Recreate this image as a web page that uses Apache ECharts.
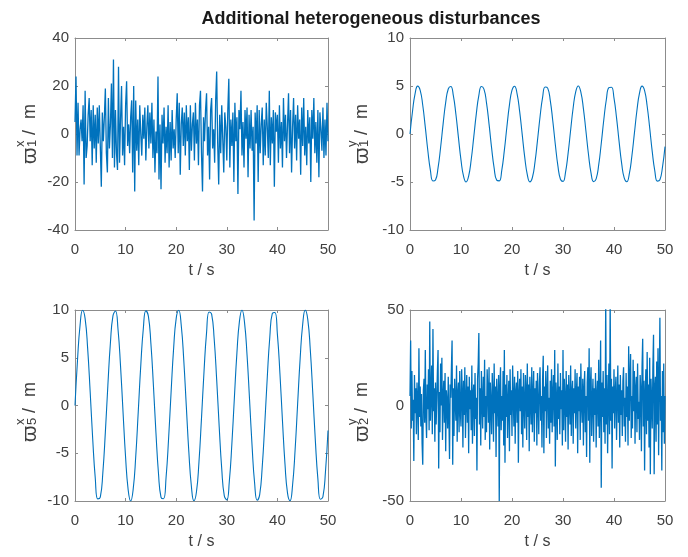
<!DOCTYPE html>
<html>
<head>
<meta charset="utf-8">
<script src="https://cdn.jsdelivr.net/npm/echarts@6/dist/echarts.min.js"></script>
<style>html,body{margin:0;padding:0;background:#fff;}#c{width:688px;height:557px;}</style>
</head>
<body>
<div id="c"></div>
<script>
// ---- data ----
const tStart = 0;
const tEnd = 50;

// top-left: ϖ1^x noise (sampled every 0.2 s)
const noise1x = [
5,24,-9,13,-9,2,6,-3,12,-21,18,-10,-5,8,15,-3,10,-13,12,-6,
8,-12,11,-4,12,-5,-22,9,-3,7,19,-8,-16,15,-6,4,21,-10,31,-14,
10,-8,-15,28,-12,6,20,-9,3,-13,12,22,-5,4,-8,7,14,-16,20,-24,
14,-7,6,-13,12,0,-9,8,-2,11,-11,3,12,-6,9,-4,13,-10,6,-16,
1,-8,24,-19,4,-23,8,-4,11,-12,3,-8,12,-14,5,-11,10,-6,2,-10,
6,17,-8,13,-17,4,11,-5,9,-9,12,-3,7,-15,12,-7,4,9,-11,13,
-4,6,-13,12,18,-8,-24,7,-3,10,17,-9,3,-19,10,15,-6,2,-12,14,
26,-4,-21,8,-8,12,-2,-16,9,3,-11,10,23,-14,6,-5,9,-20,13,-3,
7,-25,10,2,18,-9,5,-14,10,-2,11,-18,8,-6,10,-7,3,-36,9,-4,
12,-20,10,-8,4,11,-13,6,-9,13,3,-10,18,-13,7,-4,10,-22,9,1,
8,-12,12,-6,5,-14,15,-3,8,-10,4,17,-8,10,-16,3,15,-6,8,-11,
12,-2,6,-17,11,-5,15,-9,3,-13,10,-4,7,-20,10,-2,15,-8,5,-12,
10,-18,9,2,-7,11,-10,6,-9,13,-3
];

// top-right: ϖ1^y (sampled every 0.5 s)
const wave1y = [
0,2.40,4.21,4.99,4.55,2.99,0.71,-1.75,-3.78,-4.89,-4.79,-3.53,-1.40,1.08,3.29,4.69,4.95,3.99,2.06,-0.38,
-2.72,-4.40,-5.00,-4.38,-2.68,-0.33,2.10,4.02,4.95,4.67,3.25,1.03,-1.44,-3.56,-4.81,-4.88,-3.76,-1.71,0.75,3.03,
4.56,4.98,4.18,2.35,-0.04,-2.44,-4.23,-4.99,-4.53,-2.96,-0.66,1.80,3.81,4.90,4.78,3.51,1.35,-1.12,-3.32,-4.71,
-4.94,-3.97,-2.02,0.42,2.76,4.42,5.00,4.36,2.65,0.29,-2.14,-4.07,-4.96,-4.67,-3.22,-0.99,1.48,3.59,4.82,4.87,
3.73,1.68,-0.79,-3.06,-4.58,-4.98,-4.16,-2.32,0.09,2.47,4.25,4.99,4.51,2.92,0.62,-1.84,-3.84,-4.91,-4.77,-3.47,
-1.31
];

// bottom-left: ϖ5^x (sampled every 0.5 s)
const wave5x = [
0,4.79,8.41,9.97,9.09,5.98,1.41,-3.51,-7.57,-9.78,-9.59,-7.06,-2.79,2.15,6.57,9.38,9.89,7.99,4.12,-0.75,
-5.44,-8.80,-10.00,-8.76,-5.37,-0.66,4.20,8.04,9.91,9.35,6.50,2.07,-2.88,-7.12,-9.61,-9.76,-7.51,-3.43,1.50,6.06,
9.13,9.97,8.37,4.71,-0.09,-4.87,-8.46,-9.98,-9.06,-5.91,-1.32,3.59,7.63,9.79,9.56,7.01,2.71,-2.24,-6.64,-9.43,
-9.88,-7.93,-4.04,0.84,5.51,8.84,10.00,8.71,5.29,0.58,-4.28,-8.14,-9.92,-9.33,-6.44,-1.98,2.96,7.18,9.64,9.74,
7.45,3.35,-1.59,-6.13,-9.17,-9.96,-8.32,-4.64,0.18,4.95,8.51,9.99,9.02,5.84,1.24,-3.68,-7.68,-9.82,-9.54,-6.94,
-2.62
];

// bottom-right: ϖ2^y noise (sampled every 0.125 s)
const noise2y = [
5,34,-12,18,-8,3,-29,16,-4,9,-15,12,2,-18,30,-6,10,-11,6,-20,
-31,8,14,-9,29,-5,-17,11,-2,19,-13,44,-8,6,21,-15,40,-3,9,-19,
12,-10,3,18,29,-33,7,-14,22,0,25,-18,5,13,-9,17,-24,8,2,-12,
15,-6,-28,11,4,20,34,-31,9,-16,14,2,-8,21,-19,6,12,-14,18,-3,
-11,19,7,-22,13,-5,20,-17,3,16,-9,10,-25,15,-2,8,-13,21,-20,6,
11,-16,17,-7,4,-34,14,22,38,-10,9,-21,18,3,-12,15,-6,24,-18,5,
-14,19,8,-9,20,-23,12,1,-15,17,6,-19,22,-4,10,-27,14,3,-11,16,
-50,9,20,-13,5,-8,18,-21,29,-30,11,-6,16,-17,2,13,-24,19,-5,8,
-16,21,4,-11,15,-20,7,12,-9,18,-30,6,14,-3,19,-15,10,-22,17,1,
-12,16,8,-18,22,-6,11,-24,15,3,-10,20,-14,6,18,-19,9,-4,13,-21,
17,2,-15,12,20,-8,5,-22,14,26,-25,10,-3,18,-17,7,21,-12,4,-20,
13,-9,19,-14,6,16,-11,29,-32,12,3,-18,22,-7,10,-15,17,-2,8,-21,
29,-13,14,4,-19,18,-6,11,-23,16,2,-10,21,-16,7,13,-20,9,-4,19,
-12,6,17,-25,10,-3,15,-18,22,1,-9,14,-21,8,18,-14,5,-27,12,20,
-8,30,-30,11,20,-16,3,14,-19,9,-5,17,-22,6,13,-11,24,-17,2,34,
-43,12,-6,18,-14,9,-20,55,-10,16,-25,4,22,-15,55,-8,14,-33,10,-4,
19,-12,7,15,-18,3,21,-9,11,-22,16,-5,8,-16,13,20,-11,4,-19,17,
-6,10,-21,31,-8,14,27,-17,5,-12,24,-3,18,-20,9,15,-14,22,-7,2,
-18,16,8,-24,20,35,-11,13,-34,6,19,-15,28,-8,11,-22,25,-36,14,3,
-12,20,37,-36,9,15,-19,23,-10,30,-26,12,46,-8,5,-34,18,-14,22,-20,
5
];

const titleText = 'Additional heterogeneous disturbances';
const xName = 't / s';
const panels = [
  {vals: noise1x, ymin: -40, ymax: 40, yint: 20, sup: 'x', sub: '1', lw: 1.3},
  {vals: wave1y,  ymin: -10, ymax: 10, yint: 5,  sup: 'y', sub: '1', lw: 1.1, smooth: true},
  {vals: wave5x,  ymin: -10, ymax: 10, yint: 5,  sup: 'x', sub: '5', lw: 1.1, smooth: true},
  {vals: noise2y, ymin: -50, ymax: 50, yint: 50, sup: 'y', sub: '2', lw: 1.3}
];

// ---- layout / style ----
const grids = [
  {left: 75, top: 38, width: 253, height: 192},
  {left: 410, top: 38, width: 255, height: 192},
  {left: 75, top: 310, width: 253, height: 191},
  {left: 410, top: 310, width: 255, height: 191}
];
const yLabelPos = [[30, 131], [362, 131], [30, 409], [362, 409]];
const FONT = '"Liberation Sans", Arial, Helvetica, "DejaVu Sans", sans-serif';
const axisCol = '#8c8c8c';
const textCol = '#404040';
const lineCol = '#0072BD';

function toPairs(vals) {
  const n = vals.length;
  return vals.map((v, i) => [tStart + i * (tEnd - tStart) / (n - 1), v]);
}

function txt(x, y, s, size) {
  return {type: 'text', x: x, y: y, style: {text: s, font: size + 'px ' + FONT, fill: textCol, align: 'left', verticalAlign: 'middle'}};
}

const xAxes = [], yAxes = [], series = [], graphics = [];
panels.forEach((p, i) => {
  const base = {
    gridIndex: i, type: 'value', min: tStart, max: tEnd, interval: 10,
    axisLine: {show: true, onZero: false, lineStyle: {color: axisCol, width: 1}},
    axisTick: {show: true, inside: true, length: 3, lineStyle: {color: axisCol}},
    splitLine: {show: false}
  };
  xAxes.push(Object.assign({}, base, {
    position: 'bottom',
    axisLabel: {show: true, color: textCol, fontSize: 15, fontFamily: FONT, margin: 12},
    name: xName, nameLocation: 'middle', nameGap: 33,
    nameTextStyle: {color: textCol, fontSize: 16, fontFamily: FONT}
  }));
  xAxes.push(Object.assign({}, base, {position: 'top', axisLabel: {show: false}}));
  const ybase = Object.assign({}, base, {min: p.ymin, max: p.ymax, interval: p.yint});
  yAxes.push(Object.assign({}, ybase, {
    position: 'left',
    axisLabel: {show: true, color: textCol, fontSize: 15, fontFamily: FONT, margin: 6}
  }));
  yAxes.push(Object.assign({}, ybase, {position: 'right', axisLabel: {show: false}}));
  series.push({
    type: 'line', xAxisIndex: i * 2, yAxisIndex: i * 2,
    data: toPairs(p.vals), showSymbol: false, symbol: 'none',
    smooth: p.smooth ? 0.5 : false, clip: true,
    lineStyle: {color: lineCol, width: p.lw}, animation: false
  });
  const [cx, cy] = yLabelPos[i];
  graphics.push({
    type: 'group', x: cx, y: cy, rotation: Math.PI / 2,
    children: [
      txt(-33, 0, 'ϖ', 21),
      txt(-16, -9.5, p.sup, 13),
      txt(-16, 2.5, p.sub, 13),
      txt(-4, 0.5, '/', 18),
      txt(12, 0.5, 'm', 18)
    ]
  });
});

const chart = echarts.init(document.getElementById('c'), null, {renderer: 'canvas'});
chart.setOption({
  animation: false,
  backgroundColor: '#fff',
  title: {
    text: titleText, left: 366, top: 5, textAlign: 'center',
    textStyle: {fontSize: 18, fontWeight: 'bold', color: '#1a1a1a', fontFamily: FONT}
  },
  grid: grids,
  xAxis: xAxes,
  yAxis: yAxes,
  series: series,
  graphic: graphics
});
</script>
</body>
</html>
